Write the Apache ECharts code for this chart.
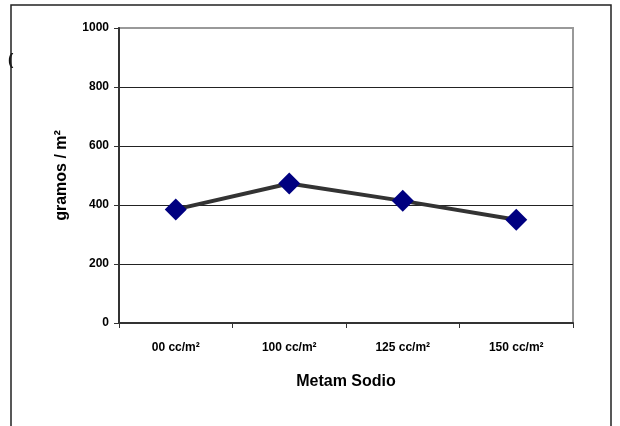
<!DOCTYPE html>
<html>
<head>
<meta charset="utf-8">
<script src="https://cdn.jsdelivr.net/npm/echarts@6/dist/echarts.min.js"></script>
<style>html,body{margin:0;padding:0;background:#fff}#c{width:620px;height:426px}</style>
</head>
<body>
<div id="c"></div>
<script>
var categories = ['00 cc/m²', '100 cc/m²', '125 cc/m²', '150 cc/m²'];
var values = [385, 473, 414, 350];
var yTicks = [0, 200, 400, 600, 800, 1000];

var chart = echarts.init(document.getElementById('c'), null, {renderer: 'canvas'});
var font = 'Liberation Sans, Arial, sans-serif';
chart.setOption({
  animation: false,
  backgroundColor: '#fff',
  grid: {left: 119, top: 28, right: 47, bottom: 103, show: true, borderColor: '#999', borderWidth: 2, backgroundColor: 'transparent'},
  graphic: [
    {type: 'text', left: 8, top: 53, style: {text: '(', font: 'bold 16px ' + font, fill: '#111'}, z: 0},
    {type: 'rect', shape: {x: 11, y: 5, width: 600, height: 430}, style: {fill: 'none', stroke: '#222', lineWidth: 1.5}, z: 1, silent: true}
  ],
  xAxis: {
    type: 'category',
    data: categories,
    boundaryGap: true,
    axisLine: {lineStyle: {color: '#333', width: 2}},
    axisTick: {show: true, length: 5, lineStyle: {color: '#333', width: 1}},
    axisLabel: {color: '#000', fontFamily: font, fontWeight: 'bold', fontSize: 12, margin: 19},
    name: 'Metam Sodio',
    nameLocation: 'middle',
    nameGap: 51,
    nameTextStyle: {color: '#000', fontFamily: font, fontWeight: 'bold', fontSize: 16}
  },
  yAxis: {
    type: 'value',
    min: yTicks[0],
    max: yTicks[yTicks.length - 1],
    interval: 200,
    axisLine: {show: true, lineStyle: {color: '#333', width: 2}},
    axisTick: {show: true, length: 5, lineStyle: {color: '#333', width: 1}},
    axisLabel: {color: '#000', fontFamily: font, fontWeight: 'bold', fontSize: 12, margin: 10, formatter: function (v) { return String(v); }},
    splitLine: {show: true, showMaxLine: false, lineStyle: {color: '#222', width: 1}},
    name: 'gramos / m²',
    nameLocation: 'middle',
    nameGap: 49,
    nameRotate: 90,
    nameTextStyle: {color: '#000', fontFamily: font, fontWeight: 'bold', fontSize: 16}
  },
  series: [{
    type: 'line',
    data: values,
    symbol: 'diamond',
    symbolSize: 22,
    lineStyle: {color: '#333', width: 4},
    itemStyle: {color: '#000080', borderWidth: 0},
    z: 5
  }]
});
</script>
</body>
</html>
